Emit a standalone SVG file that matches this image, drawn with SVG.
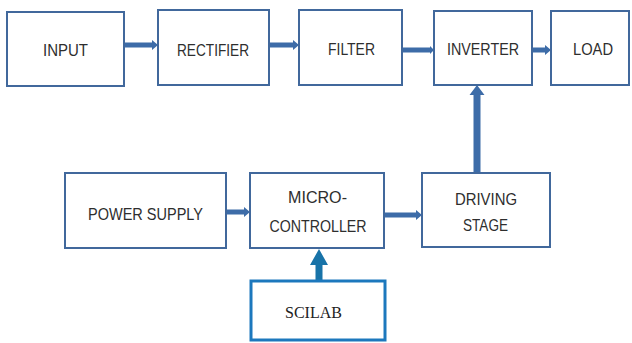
<svg xmlns="http://www.w3.org/2000/svg" width="632" height="343" viewBox="0 0 632 343">
  <style>
    .box { fill: #ffffff; stroke: #41689c; stroke-width: 2; }
    .box2 { fill: #ffffff; stroke: #1c78bd; stroke-width: 3; }
    .lbl { font-family: "Liberation Sans", Arial, sans-serif; font-size: 17px; fill: #2e2e2e; text-anchor: middle; }
    .lbl2 { font-family: "Liberation Serif", "Times New Roman", serif; font-size: 17px; fill: #222222; text-anchor: middle; }
    .arr { fill: #3d6ca8; }
    .arr2 { fill: #1873a8; }
  </style>
  <rect width="632" height="343" fill="#ffffff"/>

  <!-- connectors -->
  <g id="connectors">
    <!-- INPUT -> RECTIFIER -->
    <polygon class="arr" points="125,42.5 152,42.5 152,40 158,45 152,50 152,47.5 125,47.5"/>
    <!-- RECTIFIER -> FILTER -->
    <polygon class="arr" points="270,42.5 293,42.5 293,40 299,45 293,50 293,47.5 270,47.5"/>
    <!-- FILTER -> INVERTER -->
    <polygon class="arr" points="403,47.5 430,47.5 430,46 434,50 430,54 430,52.5 403,52.5"/>
    <!-- INVERTER -> LOAD -->
    <polygon class="arr" points="533,47.5 545,47.5 545,45 551,50 545,55 545,52.5 533,52.5"/>
    <!-- POWER SUPPLY -> MICRO-CONTROLLER -->
    <polygon class="arr" points="227,209.5 244,209.5 244,207 250,212 244,217 244,214.5 227,214.5"/>
    <!-- MICRO-CONTROLLER -> DRIVING STAGE -->
    <polygon class="arr" points="385,212.5 416,212.5 416,210 422,215 416,220 416,217.5 385,217.5"/>
    <!-- DRIVING STAGE -> INVERTER -->
    <polygon class="arr" points="473.5,173 473.5,95 469.5,95 477,85 484.5,95 480.5,95 480.5,173"/>
    <!-- SCILAB -> MICRO-CONTROLLER -->
    <polygon class="arr2" points="315.5,280 315.5,265 310,265 319,249 328,265 322.5,265 322.5,280"/>
  </g>

  <g id="input">
    <rect class="box" x="7" y="12" width="117" height="74"/>
    <text class="lbl" x="65.5" y="56" textLength="45" lengthAdjust="spacingAndGlyphs">INPUT</text>
  </g>
  <g id="rectifier">
    <rect class="box" x="158" y="10" width="111" height="75"/>
    <text class="lbl" x="213" y="56" textLength="72" lengthAdjust="spacingAndGlyphs">RECTIFIER</text>
  </g>
  <g id="filter">
    <rect class="box" x="299" y="10" width="103" height="75"/>
    <text class="lbl" x="351.5" y="55" textLength="47" lengthAdjust="spacingAndGlyphs">FILTER</text>
  </g>
  <g id="inverter">
    <rect class="box" x="434" y="11" width="98" height="74"/>
    <text class="lbl" x="483" y="55" textLength="72" lengthAdjust="spacingAndGlyphs">INVERTER</text>
  </g>
  <g id="load">
    <rect class="box" x="551" y="11" width="78" height="74"/>
    <text class="lbl" x="593" y="55" textLength="40" lengthAdjust="spacingAndGlyphs">LOAD</text>
  </g>
  <g id="power-supply">
    <rect class="box" x="65" y="173" width="161" height="75"/>
    <text class="lbl" x="145.5" y="220" textLength="115" lengthAdjust="spacingAndGlyphs">POWER SUPPLY</text>
  </g>
  <g id="microcontroller">
    <rect class="box" x="250" y="173" width="134" height="75"/>
    <text class="lbl" x="317.5" y="203" textLength="59" lengthAdjust="spacingAndGlyphs">MICRO-</text>
    <text class="lbl" x="318" y="232" textLength="97" lengthAdjust="spacingAndGlyphs">CONTROLLER</text>
  </g>
  <g id="driving-stage">
    <rect class="box" x="422" y="173" width="128" height="74"/>
    <text class="lbl" x="486" y="205" textLength="62" lengthAdjust="spacingAndGlyphs">DRIVING</text>
    <text class="lbl" x="485.5" y="231" textLength="45" lengthAdjust="spacingAndGlyphs">STAGE</text>
  </g>
  <g id="scilab">
    <rect class="box2" x="251" y="281" width="134" height="59"/>
    <text class="lbl2" x="313.5" y="318" textLength="57" lengthAdjust="spacingAndGlyphs">SCILAB</text>
  </g>
</svg>
